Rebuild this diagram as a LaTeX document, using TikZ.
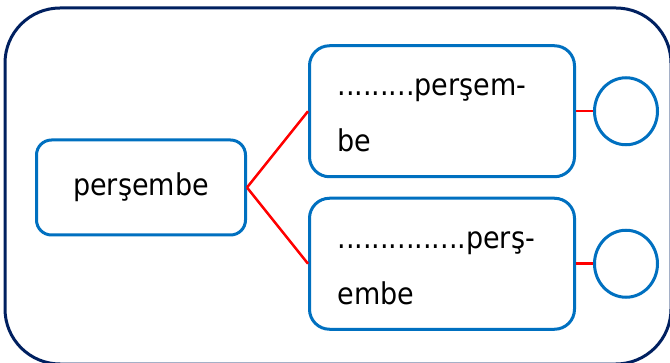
\documentclass[tikz,border=0pt]{standalone}
\usepackage{fontspec}
\setmainfont{DejaVu Sans Condensed}
\usetikzlibrary{shapes.geometric}
\definecolor{boxblue}{HTML}{0070C0}
\definecolor{framenavy}{HTML}{002060}
\definecolor{linkred}{HTML}{FF0000}
\newcommand{\toplift}{\rule{0pt}{25pt}}

\begin{document}
\begin{tikzpicture}[x=1pt, y=1pt, grow=right]
        \tikzstyle{every node}=[draw=boxblue, line width=3pt, rounded corners=15pt, font=\fontsize{30}{56}\selectfont]
        \tikzstyle{edge from parent}=[draw=linkred, line width=2.5pt]
        \tikzstyle{level 1}=[level distance=301pt, sibling distance=152.5pt, set style={{every node}+=[rounded corners=20pt, minimum height=131pt, text width=209pt, inner xsep=28pt, align=left]}]
        \tikzstyle{level 2}=[level distance=184pt, set style={{every node}+=[ellipse, minimum width=63pt, minimum height=67pt, text width=, inner sep=0pt]}]
        \useasboundingbox (0,0) rectangle (670,362);
        \draw[framenavy, line width=3pt, rounded corners=55pt] (5,-2) rectangle (671,354);
        \node[minimum width=209pt, minimum height=95pt] (day) at (141,174.5) {perşembe}
            [edge from parent path={(\tikzparentnode.east) -- (\tikzchildnode.west)}]
            child {node (daylow) {\toplift...............perş-\\embe} child {node (ringlow) {}}}
            child {node (dayup) {\toplift.........perşem-\\be} child {node (ringup) {}}};
    \end{tikzpicture}
\end{document}
